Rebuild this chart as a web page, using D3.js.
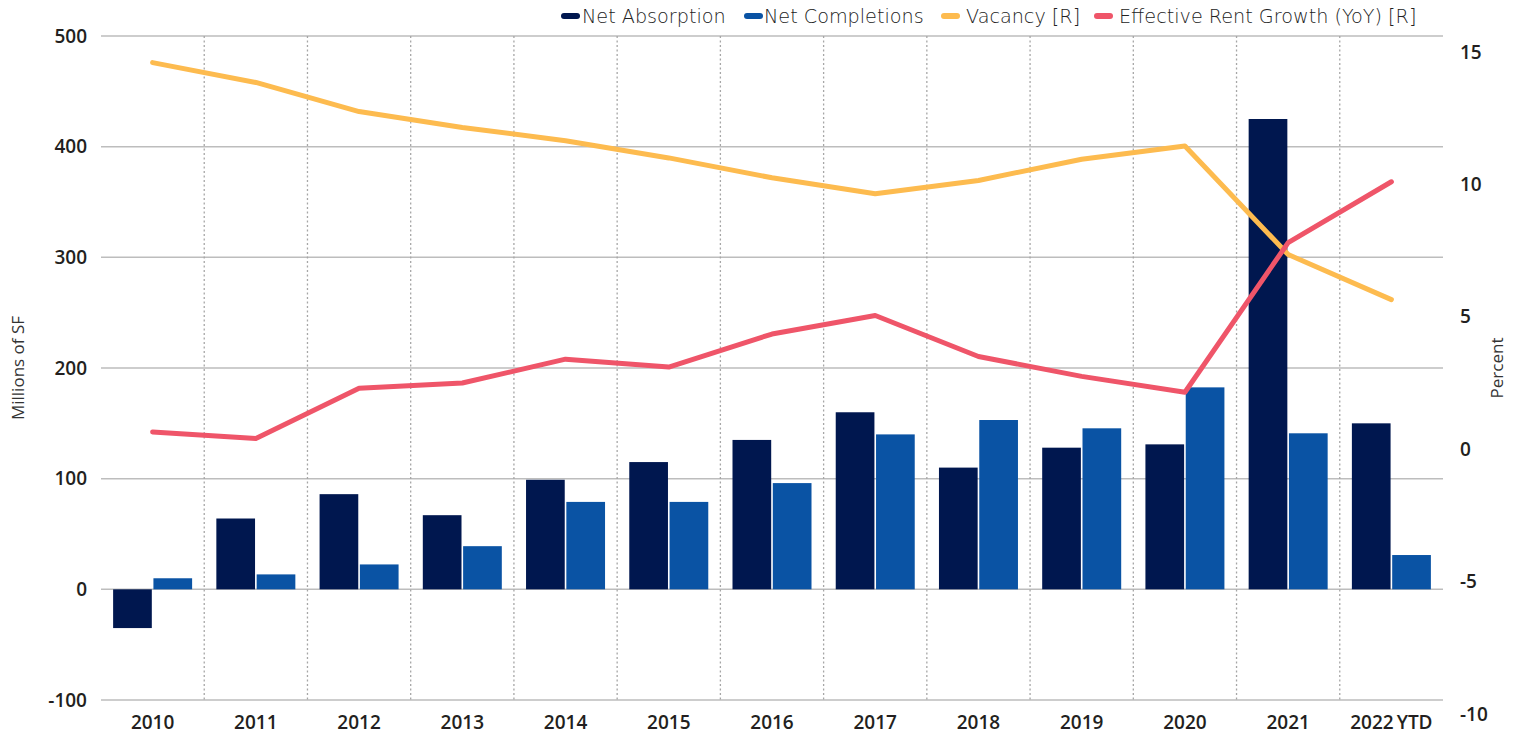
<!DOCTYPE html>
<html>
<head>
<meta charset="utf-8">
<script src="https://cdn.jsdelivr.net/npm/d3@7"></script>
<style>
  body { margin: 0; background: #fff; }
  svg { display: block; font-family: "Open Sans", sans-serif; }
</style>
</head>
<body>
<svg id="chart" width="1520" height="740"></svg>
<script>
// data
const years = ['2010', '2011', '2012', '2013', '2014', '2015', '2016', '2017', '2018', '2019', '2020', '2021', '2022 YTD'];
const netAbsorption = [-35, 64, 86, 67, 99, 115, 135, 160, 110, 128, 131, 425, 150];
const netCompletions = [10, 13.5, 22.5, 39, 79, 79, 96, 140, 153, 145.5, 182.5, 141, 31];
const vacancy = [14.6, 13.85, 12.75, 12.15, 11.65, 11.0, 10.25, 9.65, 10.15, 10.95, 11.45, 7.35, 5.65];
const rentGrowth = [0.65, 0.4, 2.3, 2.5, 3.4, 3.1, 4.35, 5.05, 3.5, 2.75, 2.15, 7.8, 10.1];
const leftTicks = [-100, 0, 100, 200, 300, 400, 500];
const rightTicks = [-10, -5, 0, 5, 10, 15];

const legendItems = [
  {name: 'Net Absorption', color: '#00174f'},
  {name: 'Net Completions', color: '#0a53a4'},
  {name: 'Vacancy [R]', color: '#fdbb4f'},
  {name: 'Effective Rent Growth (YoY) [R]', color: '#ef5569'}
];

const svg = d3.select('#chart');
const plotLeft = 101, plotRight = 1443, plotTop = 36, plotBottom = 700;

const x = d3.scaleBand().domain(years).range([plotLeft, plotRight]);
const xInner = d3.scaleBand().domain(['abs', 'comp'])
  .range([x.bandwidth() / 2 - 39.5, x.bandwidth() / 2 + 39.5])
  .paddingInner(0.04);
const y = d3.scaleLinear().domain([-100, 500]).range([plotBottom, plotTop]);
const y2 = d3.scaleLinear().domain([-10, 15]).range([714, 52]);

// horizontal gridlines
svg.append('g')
  .selectAll('line')
  .data(leftTicks)
  .join('line')
  .attr('x1', plotLeft).attr('x2', plotRight)
  .attr('y1', d => y(d)).attr('y2', d => y(d))
  .attr('stroke', '#bdbdbd')
  .attr('stroke-width', 1.5);

// dotted separators between categories
svg.append('g')
  .selectAll('line')
  .data(years.slice(1))
  .join('line')
  .attr('x1', d => x(d)).attr('x2', d => x(d))
  .attr('y1', plotTop).attr('y2', plotBottom)
  .attr('stroke', '#a6a6a6')
  .attr('stroke-width', 1.3)
  .attr('stroke-dasharray', '2,2.5');

// bars
const bars = svg.append('g');
bars.selectAll('.abs')
  .data(years)
  .join('rect')
  .attr('class', 'abs')
  .attr('x', (d) => x(d) + xInner('abs'))
  .attr('width', xInner.bandwidth())
  .attr('y', (d, i) => y(Math.max(0, netAbsorption[i])))
  .attr('height', (d, i) => Math.abs(y(netAbsorption[i]) - y(0)))
  .attr('fill', legendItems[0].color);

bars.selectAll('.comp')
  .data(years)
  .join('rect')
  .attr('class', 'comp')
  .attr('x', (d) => x(d) + xInner('comp'))
  .attr('width', xInner.bandwidth())
  .attr('y', (d, i) => y(Math.max(0, netCompletions[i])))
  .attr('height', (d, i) => Math.abs(y(netCompletions[i]) - y(0)))
  .attr('fill', legendItems[1].color);

// lines on the right axis
const line = d3.line()
  .x((d, i) => x(years[i]) + x.bandwidth() / 2)
  .y(d => y2(d));

svg.append('path')
  .datum(vacancy)
  .attr('d', line)
  .attr('fill', 'none')
  .attr('stroke', legendItems[2].color)
  .attr('stroke-width', 5)
  .attr('stroke-linecap', 'round')
  .attr('stroke-linejoin', 'round');

svg.append('path')
  .datum(rentGrowth)
  .attr('d', line)
  .attr('fill', 'none')
  .attr('stroke', legendItems[3].color)
  .attr('stroke-width', 5)
  .attr('stroke-linecap', 'round')
  .attr('stroke-linejoin', 'round');

// axes (plain hyphen for negatives, like the source)
const plain = d => String(d);
const leftAxis = svg.append('g')
  .attr('transform', `translate(${plotLeft - 14},0)`)
  .call(d3.axisLeft(y).tickValues(leftTicks).tickFormat(plain).tickSize(0).tickPadding(0));
const rightAxis = svg.append('g')
  .attr('transform', `translate(1460,0)`)
  .call(d3.axisRight(y2).tickValues(rightTicks).tickFormat(plain).tickSize(0).tickPadding(0));
const bottomAxis = svg.append('g')
  .attr('transform', `translate(0,${plotBottom})`)
  .call(d3.axisBottom(x).tickSize(0).tickPadding(16));

[leftAxis, rightAxis, bottomAxis].forEach(a => {
  a.select('.domain').remove();
  a.selectAll('text')
    .attr('fill', '#231f20')
    .style('font-size', '19px')
    .style('font-weight', 600)
    .style('font-family', '"Open Sans", sans-serif');
});
bottomAxis.selectAll('text').style('word-spacing', '-2px');

// axis titles
svg.append('text')
  .attr('transform', 'translate(24,368) rotate(-90)')
  .attr('text-anchor', 'middle')
  .attr('fill', '#333')
  .style('font-size', '17px')
  .text('Millions of SF');

svg.append('text')
  .attr('transform', 'translate(1503,368) rotate(-90)')
  .attr('text-anchor', 'middle')
  .attr('fill', '#333')
  .style('font-size', '17px')
  .text('Percent');

// legend: marker start and text start for each entry
const legendMarkX = [561, 744, 941, 1094];
const legendTextX = [582, 764, 966, 1119];
const legendY = 16;
const legend = svg.append('g')
  .selectAll('g')
  .data(legendItems)
  .join('g');
legend.append('line')
  .attr('x1', (d, i) => legendMarkX[i] + 3).attr('x2', (d, i) => legendMarkX[i] + 16)
  .attr('y1', legendY).attr('y2', legendY)
  .attr('stroke', d => d.color)
  .attr('stroke-width', 6)
  .attr('stroke-linecap', 'round');
legend.append('text')
  .attr('x', (d, i) => legendTextX[i])
  .attr('y', legendY)
  .attr('dy', '0.35em')
  .attr('fill', '#222')
  .style('font-family', '"DejaVu Sans", sans-serif')
  .style('font-size', '19.2px')
  .style('font-weight', 300)
  .text(d => d.name);
</script>
</body>
</html>
